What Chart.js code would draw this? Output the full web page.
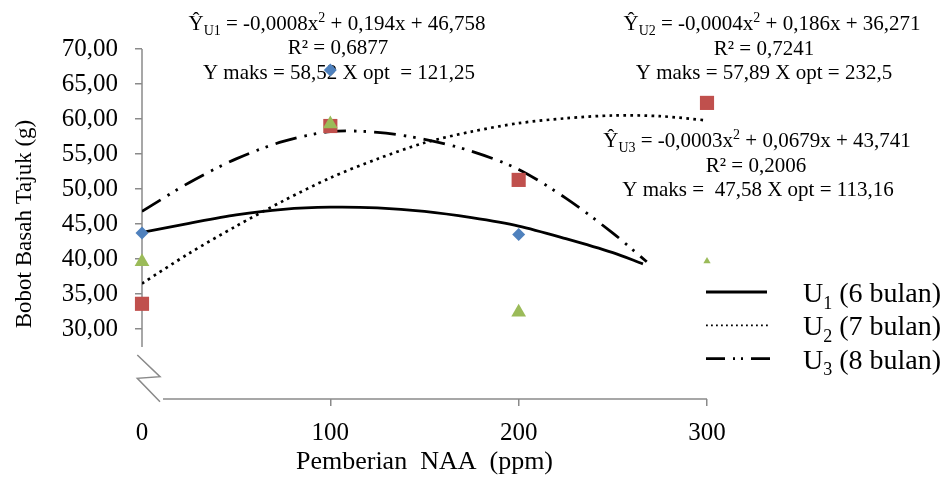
<!DOCTYPE html>
<html>
<head>
<meta charset="utf-8">
<script src="https://cdn.jsdelivr.net/npm/chart.js@4.4.1/dist/chart.umd.min.js"></script>
<style>
  html, body { margin: 0; padding: 0; background: #fff; }
  canvas { display: block; }
</style>
</head>
<body>
<canvas id="naaChart" width="947" height="477"></canvas>
<script>
// NAA doses (ppm) and observed fresh shoot weight per planting age
const doses = [0, 100, 200, 300];
const u1Obs = [43.7, 67.0, 43.5, null];
const u2Obs = [33.6, 59.0, 51.3, 62.3];
const u3Obs = [39.6, 59.3, 32.4, 39.7];

// Quadratic trend curves
const u1CurveX = [0, 25, 50, 75, 100, 125, 150, 175, 200, 225, 250, 266];
const u1CurveY = [43.8, 45.1, 46.3, 47.1, 47.4, 47.3, 46.8, 45.9, 44.7, 42.9, 40.9, 39.3];
const u2CurveX = [0, 25, 50, 75, 100, 125, 150, 175, 200, 225, 250, 275, 300];
const u2CurveY = [36.5, 40.8, 44.7, 48.3, 51.6, 54.3, 56.6, 58.2, 59.4, 60.1, 60.5, 60.4, 59.8];
const u3CurveX = [0, 25, 50, 75, 100, 125, 150, 175, 200, 225, 250, 268];
const u3CurveY = [46.8, 50.9, 54.3, 56.8, 58.2, 58.1, 57.1, 55.4, 52.8, 48.7, 43.7, 39.6];

// Tick values
const xTicks = [0, 100, 200, 300];
const yTicks = [30, 35, 40, 45, 50, 55, 60, 65, 70];

// Regression notes (_{..} subscript, ^{..} superscript)
const notesU1 = ['Ŷ_{U1} = -0,0008x^{2} + 0,194x + 46,758', 'R² = 0,6877', 'Y maks = 58,52 X opt  = 121,25'];
const notesU2 = ['Ŷ_{U2} = -0,0004x^{2} + 0,186x + 36,271', 'R² = 0,7241', 'Y maks = 57,89 X opt = 232,5'];
const notesU3 = ['Ŷ_{U3} = -0,0003x^{2} + 0,0679x + 43,741', 'R² = 0,2006', 'Y maks =  47,58 X opt = 113,16'];
const legendLabels = ['U_{1} (6 bulan)', 'U_{2} (7 bulan)', 'U_{3} (8 bulan)'];

const serif = '"Liberation Serif", "Times New Roman", serif';
const axisGray = '#8a8a8a';
const dotted = [2.7, 4.3];
const dashDot = [22, 8, 2.5, 7, 2.5, 8];

const toPoints = (xs, ys) => xs.map((x, i) => ({ x: x, y: ys[i] }));

// Split a string into plain / sub / sup parts
function parseRich(str) {
    return str.split(/(_\{[^}]*\}|\^\{[^}]*\})/).filter(s => s).map(s => {
        if (s.startsWith('_{')) return { t: s.slice(2, -1), sub: true };
        if (s.startsWith('^{')) return { t: s.slice(2, -1), sup: true };
        return { t: s };
    });
}

function drawRich(ctx, str, x, baseline, size, align) {
    const parts = parseRich(str);
    const fontFor = p => (p.sub || p.sup ? Math.round(size * 0.65) : size) + 'px ' + serif;
    let total = 0;
    parts.forEach(p => { ctx.font = fontFor(p); total += ctx.measureText(p.t).width; });
    let cx = align === 'center' ? x - total / 2 : x;
    ctx.textAlign = 'left';
    ctx.textBaseline = 'alphabetic';
    parts.forEach(p => {
        ctx.font = fontFor(p);
        let y = baseline;
        if (p.sub) y += size * 0.24;
        if (p.sup) y -= size * 0.36;
        ctx.fillText(p.t, cx, y);
        cx += ctx.measureText(p.t).width;
    });
}

// Regression notes, broken axes and line legend
const decorations = {
    id: 'decorations',
    beforeDatasetsDraw(chart) {
        const ctx = chart.ctx;
        const { left, right, top, bottom } = chart.chartArea;
        ctx.save();
        ctx.fillStyle = '#000';
        [[notesU1, [337, 338, 339], 29.5], [notesU2, [772, 764, 764], 30], [notesU3, [757, 756, 758], 147]].forEach(([lines, centers, base]) => {
            lines.forEach((line, i) => drawRich(ctx, line, centers[i], base + i * 24.7, 21, 'center'));
        });

        // y axis stops short, then a break mark before the x axis
        ctx.strokeStyle = axisGray;
        ctx.lineWidth = 1.5;
        ctx.beginPath();
        ctx.moveTo(left, top);
        ctx.lineTo(left, bottom - 52);
        ctx.moveTo(left - 4.7, bottom - 44);
        ctx.lineTo(left + 18, bottom - 22.3);
        ctx.lineTo(left - 4.7, bottom - 20.7);
        ctx.lineTo(left + 18, bottom + 2.7);
        ctx.moveTo(left + 21, bottom);
        ctx.lineTo(right, bottom);
        ctx.stroke();
        ctx.restore();
    },
    afterDraw(chart) {
        const ctx = chart.ctx;
        const styles = [
            { dash: [], width: 2.8, len: 61 },
            { dash: [1.8, 3.2], width: 1.8, len: 65 },
            { dash: [19, 8, 2, 6, 2, 8], width: 2.8, len: 71 }
        ];
        ctx.save();
        legendLabels.forEach((label, i) => {
            const y = 292 + i * 33.3;
            const s = styles[i];
            ctx.strokeStyle = '#000';
            ctx.lineWidth = s.width;
            ctx.setLineDash(s.dash);
            ctx.beginPath();
            ctx.moveTo(706, y);
            ctx.lineTo(706 + s.len, y);
            ctx.stroke();
            ctx.setLineDash([]);
            ctx.fillStyle = '#000';
            drawRich(ctx, label, 803, y + 10, 28, 'left');
        });
        ctx.restore();
    }
};

const trendLine = (points, dash, width) => ({
    data: points,
    showLine: true,
    borderColor: '#000',
    borderWidth: width,
    borderDash: dash,
    borderCapStyle: 'butt',
    pointRadius: 0,
    tension: 0.3,
    order: 5
});

new Chart(document.getElementById('naaChart'), {
    type: 'scatter',
    data: {
        datasets: [
            trendLine(toPoints(u1CurveX, u1CurveY), [], 2.8),
            trendLine(toPoints(u2CurveX, u2CurveY), dotted, 2.7),
            trendLine(toPoints(u3CurveX, u3CurveY), dashDot, 2.8),
            {
                data: toPoints(doses, u1Obs),
                pointStyle: 'rectRot',
                pointRadius: 6.5,
                backgroundColor: '#4F81BD',
                borderWidth: 0,
                clip: false,
                order: 3
            },
            {
                data: toPoints(doses, u2Obs),
                pointStyle: 'rect',
                pointRadius: 10,
                backgroundColor: '#C0504D',
                borderWidth: 0,
                clip: false,
                order: 2
            },
            {
                data: toPoints(doses, u3Obs),
                pointStyle: 'triangle',
                pointRadius: [8.5, 8.5, 8.5, 4.2],
                backgroundColor: '#9BBB59',
                borderWidth: 0,
                clip: false,
                order: 1
            }
        ]
    },
    options: {
        responsive: false,
        animation: false,
        layout: { padding: { top: 49, right: 240, left: 0, bottom: 0 } },
        plugins: {
            legend: { display: false },
            tooltip: { enabled: false }
        },
        scales: {
            x: {
                type: 'linear',
                min: 0,
                max: 300,
                afterBuildTicks: scale => { scale.ticks = xTicks.map(v => ({ value: v })); },
                afterFit: scale => { scale.height = 78; },
                border: { display: false },
                grid: {
                    drawOnChartArea: false,
                    tickLength: 7,
                    lineWidth: 1.5,
                    color: ctx => (ctx.tick && ctx.tick.value === 0 ? 'rgba(0,0,0,0)' : axisGray)
                },
                ticks: {
                    padding: 12,
                    color: '#000',
                    font: { family: serif, size: 25 },
                    callback: v => String(v)
                },
                title: {
                    display: true,
                    text: 'Pemberian  NAA  (ppm)',
                    color: '#000',
                    font: { family: serif, size: 26, lineHeight: 1 },
                    padding: { top: 0, bottom: 2 }
                }
            },
            y: {
                min: 20,
                max: 70,
                afterBuildTicks: scale => { scale.ticks = yTicks.map(v => ({ value: v })); },
                afterFit: scale => { scale.width = 142; },
                border: { display: false },
                grid: {
                    drawOnChartArea: false,
                    tickLength: 7,
                    lineWidth: 1.5,
                    color: axisGray
                },
                ticks: {
                    padding: 17,
                    color: '#000',
                    font: { family: serif, size: 25 },
                    callback: v => v.toFixed(2).replace('.', ',')
                },
                title: {
                    display: true,
                    text: 'Bobot Basah Tajuk (g)',
                    color: '#000',
                    font: { family: serif, size: 23, lineHeight: 1 },
                    padding: { top: 13.5, bottom: 0 }
                }
            }
        }
    },
    plugins: [decorations]
});
</script>
</body>
</html>
